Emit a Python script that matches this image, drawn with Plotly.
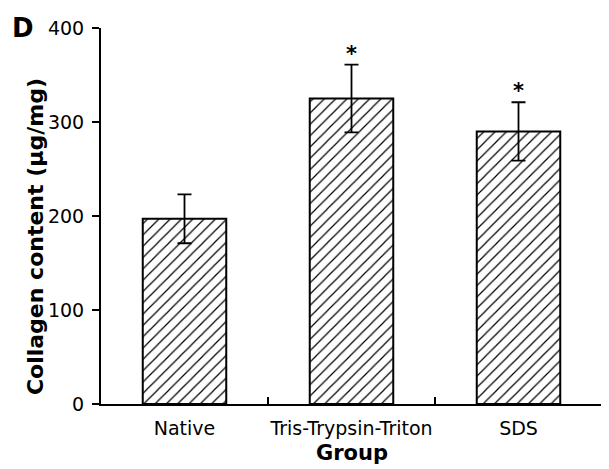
import plotly.graph_objects as go

groups = ["Native", "Tris-Trypsin-Triton", "SDS"]
collagen = [197, 325, 290]
errors = [26, 36, 31]
significant = ["", "*", "*"]

FONT = "DejaVu Sans"

fig = go.Figure()
fig.add_trace(go.Bar(
    x=groups, y=collagen, width=0.5,
    marker=dict(color="white", line=dict(color="black", width=2),
                pattern=dict(shape="/", fgcolor="black", fgopacity=1, bgcolor="white",
                             size=8, solidity=0.15)),
    error_y=dict(type="data", array=errors, visible=True, color="black", thickness=1.8, width=7),
    showlegend=False,
))

for g, v, e, s in zip(groups, collagen, errors, significant):
    if s:
        fig.add_annotation(x=g, y=v + e, text="<b>*</b>", showarrow=False, yanchor="bottom",
                           yshift=-3, font=dict(size=21, color="black", family=FONT))

fig.add_annotation(xref="paper", yref="paper", x=-0.182, y=1.045, text="<b>D</b>", showarrow=False,
                   xanchor="left", yanchor="top", font=dict(size=26, color="black", family=FONT))
fig.add_annotation(xref="paper", yref="paper", x=-0.1317, y=0.444, text="<b>Collagen content (μg/mg)</b>",
                   textangle=-90, showarrow=False, xanchor="center", yanchor="middle",
                   font=dict(size=22, color="black", family=FONT))
fig.add_annotation(xref="paper", yref="paper", x=0.5, y=-0.1303, text="<b>Group</b>",
                   showarrow=False, xanchor="center", yanchor="middle",
                   font=dict(size=21, color="black", family=FONT))

fig.update_layout(
    width=609, height=469,
    margin=dict(l=93, r=15, t=20, b=73, autoexpand=False),
    paper_bgcolor="white", plot_bgcolor="white",
    font=dict(family=FONT, size=19, color="black"),
    xaxis=dict(showline=True, linecolor="black", linewidth=2, ticks="inside", tickson="boundaries",
               ticklen=7, tickwidth=2, tickcolor="black", showgrid=False, automargin=False,
               tickangle=0, tickfont=dict(size=19), ticklabelstandoff=6),
    yaxis=dict(range=[0, 400], tickvals=[0, 100, 200, 300, 400], showline=True, linecolor="black",
               linewidth=2, ticks="outside", ticklen=7, tickwidth=2, tickcolor="black", showgrid=False,
               zeroline=False, automargin=False, tickfont=dict(size=19), ticklabelstandoff=4),
)

fig.write_html("out.html")
